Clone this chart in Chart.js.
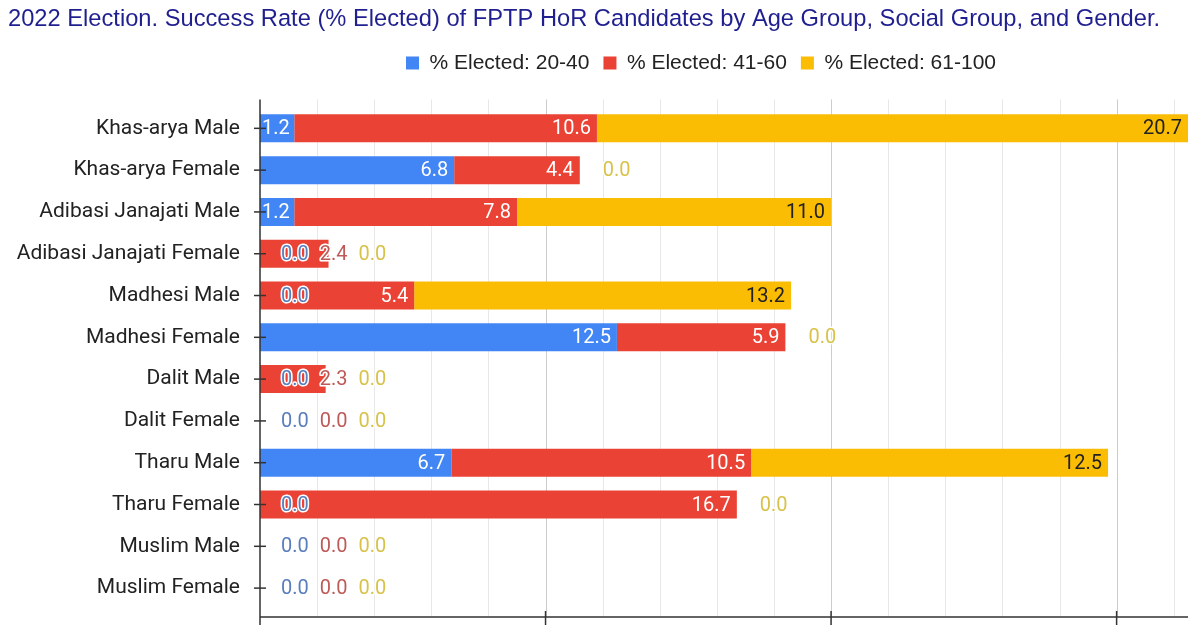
<!DOCTYPE html>
<html>
<head>
<meta charset="utf-8">
<script src="https://cdn.jsdelivr.net/npm/chart.js@4.4.1/dist/chart.umd.min.js"></script>
<style>
  html, body { margin: 0; padding: 0; background: #fff; }
  #wrap { width: 1200px; height: 628px; }
</style>
</head>
<body>
<div id="wrap"><canvas id="bar_chart" width="1200" height="628"></canvas></div>
<script>
var groups = ["Khas-arya Male", "Khas-arya Female", "Adibasi Janajati Male", "Adibasi Janajati Female",
  "Madhesi Male", "Madhesi Female", "Dalit Male", "Dalit Female", "Tharu Male", "Tharu Female",
  "Muslim Male", "Muslim Female"];

var age_20_40 = [1.2, 6.8, 1.2, 0.0, 0.0, 12.5, 0.0, 0.0, 6.7, 0.0, 0.0, 0.0];
var age_41_60 = [10.6, 4.4, 7.8, 2.4, 5.4, 5.9, 2.3, 0.0, 10.5, 16.7, 0.0, 0.0];
var age_61_100 = [20.7, 0.0, 11.0, 0.0, 13.2, 0.0, 0.0, 0.0, 12.5, 0.0, 0.0, 0.0];

var series_names = ["% Elected: 20-40", "% Elected: 41-60", "% Elected: 61-100"];
var bar_colors = ["#4285f4", "#ea4335", "#fbbc04"];
var inside_colors = ["#ffffff", "#ffffff", "#222222"];
var outside_colors = ["#5a7dbd", "#bd5a58", "#d9c24a"];

// grid / axis drawn by hand so lines run a little past the bars like the original
var gridPlugin = {
  id: 'gridPlugin',
  beforeInit: function(chart) {
    var fit = chart.legend.fit;
    chart.legend.fit = function() {
      fit.bind(chart.legend)();
      this.height += 24;
    };
  },
  afterLayout: function(chart) {
    // legend sits a bit right of centre in the original
    chart.legend.left = chart.chartArea.left - 58;
    chart.legend.right = chart.width;
  },
  beforeDatasetsDraw: function(chart) {
    var ctx = chart.ctx;
    var xs = chart.scales.x;
    var area = chart.chartArea;
    var top = area.top - 8, bottom = area.bottom + 8;
    ctx.save();
    for (var v = 2; v <= 32; v += 2) {
      var px = Math.round(xs.getPixelForValue(v)) + 0.5;
      ctx.strokeStyle = (v % 10 == 0) ? "#cccccc" : "#e8e8e8";
      ctx.lineWidth = 1;
      ctx.beginPath();
      ctx.moveTo(px, top);
      ctx.lineTo(px, bottom);
      ctx.stroke();
    }
    ctx.restore();
  },
  afterDatasetsDraw: function(chart) {
    var ctx = chart.ctx;
    var xs = chart.scales.x;
    var ys = chart.scales.y;
    var area = chart.chartArea;
    var top = area.top - 8, bottom = area.bottom + 8;
    ctx.save();
    ctx.strokeStyle = "#333333";
    ctx.lineWidth = 1.5;
    ctx.beginPath();
    ctx.moveTo(area.left, top);
    ctx.lineTo(area.left, bottom + 8);
    ctx.moveTo(area.left, bottom);
    ctx.lineTo(area.right, bottom);
    ctx.stroke();
    // category ticks
    for (var i = 0; i < groups.length; i++) {
      var py = ys.getPixelForValue(i);
      ctx.beginPath();
      ctx.moveTo(area.left - 6, py);
      ctx.lineTo(area.left + 6, py);
      ctx.stroke();
    }
    // major x ticks
    for (var v = 10; v <= 30; v += 10) {
      var px = xs.getPixelForValue(v);
      ctx.beginPath();
      ctx.moveTo(px, bottom - 6);
      ctx.lineTo(px, bottom + 8);
      ctx.stroke();
    }
    ctx.restore();
    drawLabels(chart);
  }
};

function drawLabels(chart) {
  var ctx = chart.ctx;
  var xs = chart.scales.x;
  var n = chart.data.datasets.length;
  ctx.save();
  ctx.font = "20px Roboto";
  ctx.textBaseline = "middle";
  ctx.textAlign = "left";
  ctx.lineJoin = "round";
  for (var i = 0; i < groups.length; i++) {
    var lastRight = -1;
    var base = xs.getPixelForValue(0);
    var cum = 0;
    for (var d = 0; d < n; d++) {
      cum += chart.data.datasets[d].data[i];
    }
    var stackEnd = xs.getPixelForValue(cum);
    cum = 0;
    for (var d = 0; d < n; d++) {
      var v = chart.data.datasets[d].data[i];
      var bar = chart.getDatasetMeta(d).data[i];
      var txt = v.toFixed(1);
      var w = ctx.measureText(txt).width;
      var left, inside;
      cum += v;
      var segEnd = xs.getPixelForValue(cum);
      var segStart = xs.getPixelForValue(cum - v);
      if (v > 0) {
        left = segEnd - 6 - w;
        if (lastRight >= 0 && left < lastRight + 11) left = lastRight + 11;
        if (lastRight < 0 && left < segStart + 2) left = segStart + 2;
      } else {
        left = (lastRight >= 0) ? lastRight + 11 : base + 21;
        if (d == n - 1 && left < stackEnd + 23) left = stackEnd + 23;
      }
      inside = v > 0 && left >= segStart && left + w <= segEnd;
      if (inside) {
        ctx.fillStyle = inside_colors[d];
        ctx.fillText(txt, left, bar.y + 1);
      } else {
        ctx.strokeStyle = "#ffffff";
        ctx.lineWidth = 3;
        ctx.strokeText(txt, left, bar.y + 1);
        ctx.fillStyle = outside_colors[d];
        ctx.fillText(txt, left, bar.y + 1);
      }
      lastRight = left + w;
    }
  }
  ctx.restore();
}

var ctx = document.getElementById("bar_chart");
var bar_chart = new Chart(ctx, {
  type: 'bar',
  data: {
    labels: groups,
    datasets: [
      { label: series_names[0], data: age_20_40, backgroundColor: bar_colors[0] },
      { label: series_names[1], data: age_41_60, backgroundColor: bar_colors[1] },
      { label: series_names[2], data: age_61_100, backgroundColor: bar_colors[2] }
    ]
  },
  options: {
    indexAxis: 'y',
    responsive: false,
    animation: false,
    layout: { padding: { left: 8, right: 12, top: 0, bottom: 19 } },
    datasets: { bar: { barPercentage: 0.67, categoryPercentage: 1.0, borderWidth: 0 } },
    scales: {
      x: {
        stacked: true,
        min: 0,
        max: 32.5,
        grid: { display: false },
        border: { display: false },
        ticks: { display: false },
        afterFit: function(scale) { scale.height = 0; }
      },
      y: {
        stacked: true,
        grid: { display: false },
        border: { display: false },
        ticks: { color: "#222222", font: { family: "Roboto", size: 21 }, padding: 12 },
        afterFit: function(scale) {
          scale.width = 252;
          scale.paddingTop = 0;
          scale.paddingBottom = 0;
        }
      }
    },
    plugins: {
      title: {
        display: true,
        text: "2022 Election. Success Rate (% Elected) of FPTP HoR Candidates by Age Group, Social Group, and Gender.",
        align: 'start',
        color: "#1f1f8f",
        font: { family: "'Liberation Sans', Arial", size: 23.7, weight: 'normal' },
        padding: { top: 5, bottom: 5 }
      },
      legend: {
        display: true,
        labels: {
          color: "#222222",
          font: { family: "'Liberation Sans', Arial", size: 21 },
          boxWidth: 13,
          boxHeight: 13,
          padding: 14
        }
      },
      tooltip: { enabled: false }
    }
  },
  plugins: [gridPlugin]
});
</script>
</body>
</html>
